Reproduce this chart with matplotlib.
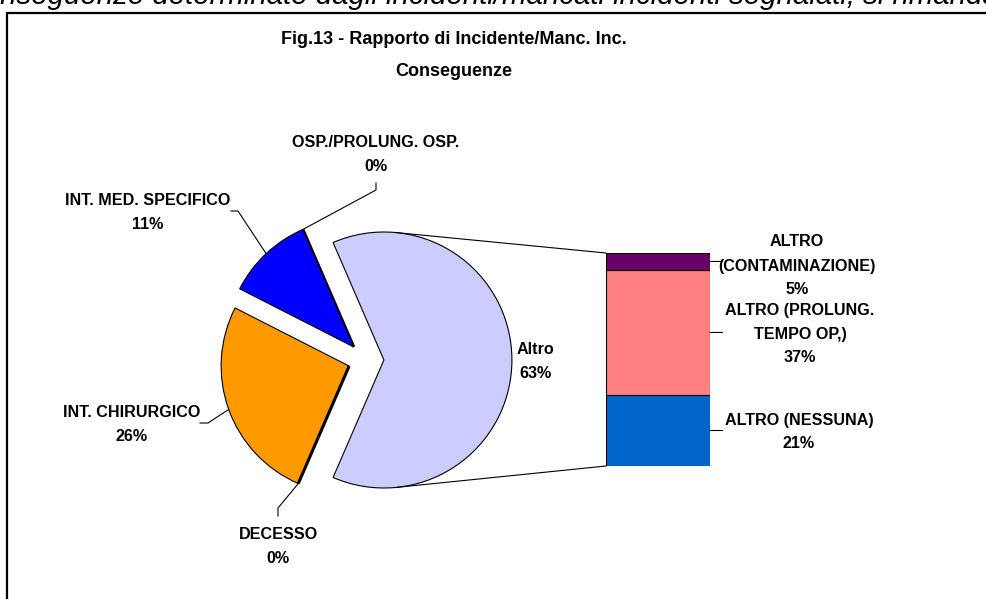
import numpy as np
import matplotlib.pyplot as plt
from matplotlib.patches import ConnectionPatch, Rectangle

# dati
pie_labels = ['OSP./PROLUNG. OSP.', 'INT. MED. SPECIFICO', 'INT. CHIRURGICO', 'DECESSO']
pie_values = [0, 11, 26, 0]
pie_colors = ['#000000', '#0000FF', '#FF9900', '#000000']

altro_labels = ['ALTRO (NESSUNA)', 'ALTRO (PROLUNG.\nTEMPO OP,)', 'ALTRO\n(CONTAMINAZIONE)']
altro_values = [21, 37, 5]
altro_colors = ['#0066CC', '#FF8080', '#660066']
altro_color = '#CCCCFF'

W, H = 986, 599
R = 128.0          # raggio torta in pixel
CX, CY = 366, 360  # centro torta in pixel
EXPL = 0.14

font = ['Liberation Sans', 'DejaVu Sans']
lab_kw = dict(family=font, fontsize=11.6, fontweight='bold', ha='center', va='center',
              linespacing=1.75)

fig = plt.figure(figsize=(W / 100, H / 100), dpi=100)
ax = fig.add_axes([0, 0, 1, 1])


def P(x, y):
    # pixel -> coordinate dati della torta
    return (x - CX) / R, (CY - y) / R


altro = sum(altro_values)
values = [altro] + pie_values
colors = [altro_color] + pie_colors
start = -altro / sum(values) * 180
wedges, _ = ax.pie(values, colors=colors, startangle=start, counterclock=True,
                   explode=[EXPL] * len(values), radius=1, center=(0, 0),
                   wedgeprops=dict(edgecolor='black', linewidth=0.8))
# le fette a 0% restano attaccate alla fetta vicina (bordo spesso)
for i, v in enumerate(values):
    if v == 0:
        j = i + 1 if i + 1 < len(values) and values[i + 1] > 0 else i - 1
        wedges[i].set_center(wedges[j].center)
        wedges[i].set_linewidth(2.2)

ax.set_xlim((0 - CX) / R, (W - CX) / R)
ax.set_ylim((CY - H) / R, CY / R)
ax.set_aspect('equal')
ax.axis('off')

# etichette torta
ax.text(*P(535, 361), 'Altro\n63%', **lab_kw)

label_pos = [(376, 154.5), (148, 212.5), (132, 424.5), (278, 546.5)]
elbows = [[(376, 183), (376, 190)], [(231, 211), (238, 211)],
          [(200, 423), (208, 423)], [(278, 516), (278, 508)]]
for w, lab, v, pos, el in zip(wedges[1:], pie_labels, pie_values, label_pos, elbows):
    th = np.deg2rad((w.theta1 + w.theta2) / 2)
    c = w.center
    anchor = (c[0] + np.cos(th), c[1] + np.sin(th))
    pts = [P(*el[0]), P(*el[1]), anchor]
    ax.plot([p[0] for p in pts], [p[1] for p in pts], color='black', lw=0.8)
    ax.text(*P(*pos), f'{lab}\n{v}%', **lab_kw)

# barra "Altro"
bx0, bx1, by0, by1 = 606, 710, 253, 466
bax = fig.add_axes([bx0 / W, (H - by1) / H, (bx1 - bx0) / W, (by1 - by0) / H])
bottom = 0
mids = []
for v, col in zip(altro_values, altro_colors):
    bax.bar(0, v, width=1, bottom=bottom, color=col, edgecolor='black', linewidth=0.8)
    mids.append(bottom + v / 2)
    bottom += v
bax.set_xlim(-0.5, 0.5)
bax.set_ylim(0, altro)
bax.axis('off')

bar_label_pos = [(799, 432), (800, 334), (797, 266)]
for lab, v, m, pos in zip(altro_labels, altro_values, mids, bar_label_pos):
    bax.annotate('', xy=(0.5, m), xytext=(0.62, m), xycoords='data',
                 arrowprops=dict(arrowstyle='-', color='black', lw=0.8,
                                 shrinkA=0, shrinkB=0), annotation_clip=False)
    ax.text(*P(*pos), f'{lab}\n{v}%', **lab_kw)

# linee di collegamento (tangenti)
c = np.array(wedges[0].center)
for yb, sgn in [(altro, 1), (0, -1)]:
    corner = ax.transData.inverted().transform(bax.transData.transform((-0.5, yb)))
    d = corner - c
    dist = np.hypot(*d)
    phi = np.arctan2(d[1], d[0]) + sgn * np.arccos(1 / dist)
    tp = c + np.array([np.cos(phi), np.sin(phi)])
    con = ConnectionPatch(xyA=(-0.5, yb), coordsA=bax.transData, xyB=tuple(tp),
                          coordsB=ax.transData, color='black', lw=0.8)
    fig.add_artist(con)

# titolo
fig.text(454 / W, 1 - 40 / H, 'Fig.13 - Rapporto di Incidente/Manc. Inc.', family=font,
         fontsize=13, fontweight='bold', ha='center', va='center')
fig.text(454 / W, 1 - 71 / H, 'Conseguenze', family=font,
         fontsize=13, fontweight='bold', ha='center', va='center')

# testo del documento (tagliato in alto)
fig.text(-31 / W, 1 - 3.5 / H,
         'conseguenze determinate dagli incidenti/mancati incidenti segnalati, si rimanda al',
         family=font, style='italic', fontsize=21.2, ha='left', va='baseline')

# cornice del grafico
fig.add_artist(Rectangle((7 / W, -0.1), 1.2, 1 - 13 / H + 0.1, transform=fig.transFigure,
                         fill=False, edgecolor='black', lw=1.6))

fig.savefig('out.png', dpi=100)
